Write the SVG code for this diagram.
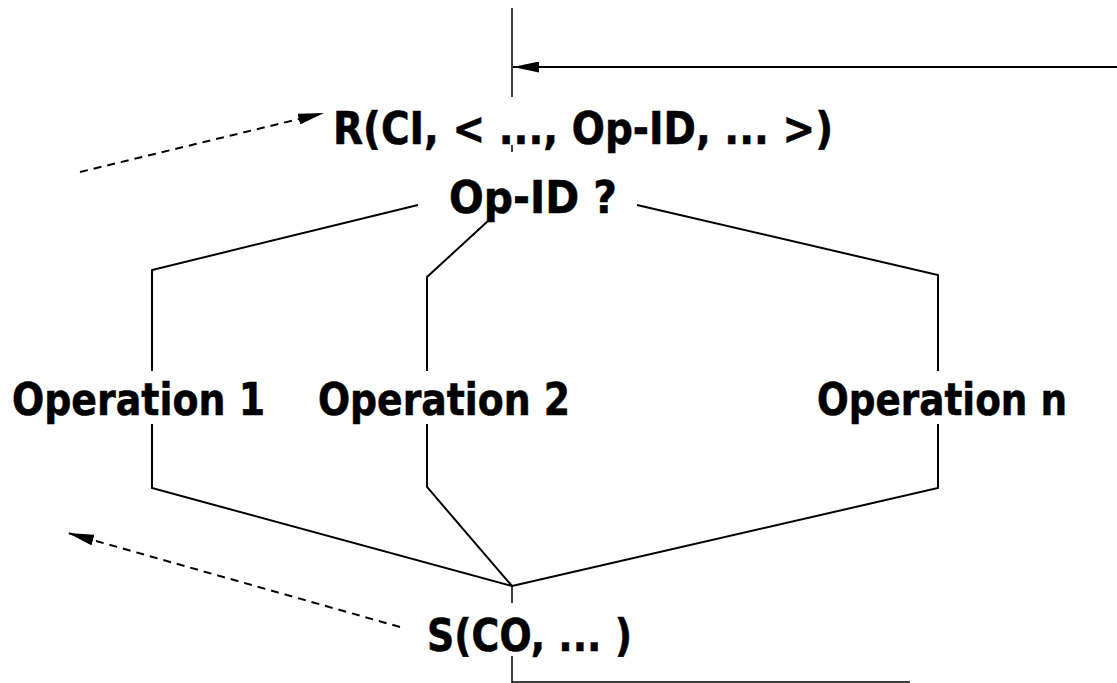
<svg xmlns="http://www.w3.org/2000/svg" width="1117" height="683" viewBox="0 0 1117 683">
<style>
text{font-family:"DejaVu Sans","Liberation Sans",sans-serif;font-weight:bold;font-size:44px;fill:#000;stroke:#000;stroke-width:0.6}
.l{fill:none;stroke:#000;stroke-width:2}
.t{fill:none;stroke:#000;stroke-width:1.5}
.d{fill:none;stroke:#000;stroke-width:2;stroke-dasharray:8,6}
</style>
<defs>
<marker id="ah2" markerWidth="26" markerHeight="11" refX="26" refY="5.5" orient="auto" markerUnits="userSpaceOnUse">
<path d="M0,0 L26,5.5 L0,11 z" fill="#000"/>
</marker>
</defs>
<g id="connectors">
<path class="t" d="M512,8 V97 M512,145 V152 M512,586 V603 M512,656 V683 M512,682 H910"/>
<path class="l" d="M1117,67 H513" marker-end="url(#ah2)"/>
<path class="d" d="M80,172 L324,113" marker-end="url(#ah2)"/>
<path class="d" d="M400,627 L68,533" marker-end="url(#ah2)"/>
<path class="l" d="M418,205 L152,270 V371 M152,424 V488 L512,586"/>
<path class="l" d="M488,221 L427,277 V371 M427,424 V487 L512,586"/>
<path class="l" d="M637,205 L938,275 V371 M938,424 V488 L512,586"/>
</g>
<g id="node-r"><text x="333" y="144" textLength="500" lengthAdjust="spacingAndGlyphs">R(CI, &lt; ..., Op-ID, ... &gt;)</text></g>
<g id="node-opid"><text x="449" y="213" textLength="168" lengthAdjust="spacingAndGlyphs">Op-ID ?</text></g>
<g id="node-op1"><text x="12" y="415" textLength="253" lengthAdjust="spacingAndGlyphs">Operation 1</text></g>
<g id="node-op2"><text x="318" y="415" textLength="252" lengthAdjust="spacingAndGlyphs">Operation 2</text></g>
<g id="node-opn"><text x="817" y="415" textLength="250" lengthAdjust="spacingAndGlyphs">Operation n</text></g>
<g id="node-s"><text x="427" y="651" textLength="205" lengthAdjust="spacingAndGlyphs">S(CO, ... )</text></g>
</svg>
